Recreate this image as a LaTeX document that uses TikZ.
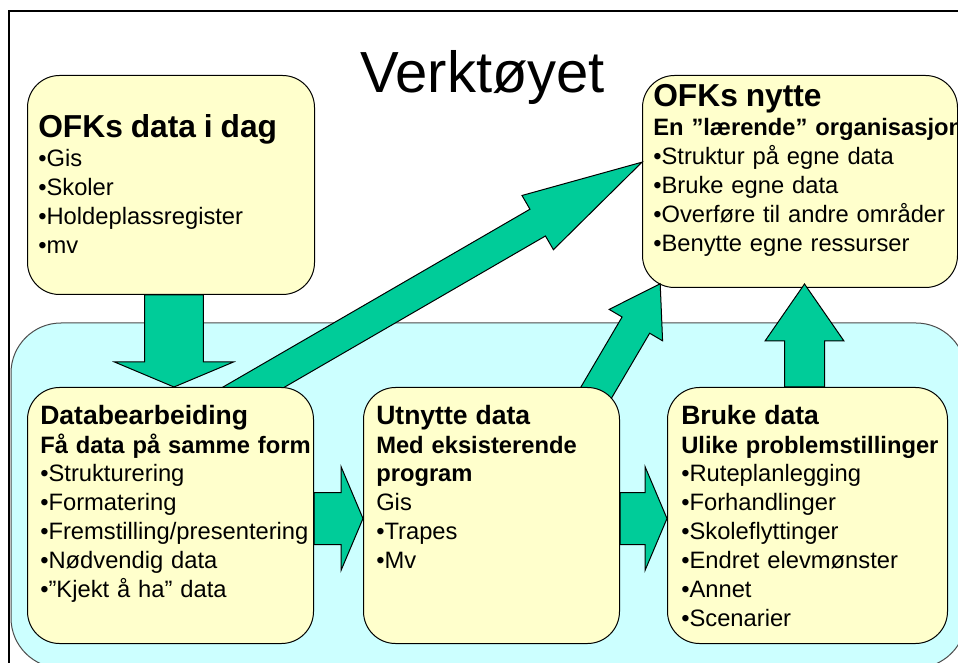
\documentclass[tikz,border=0pt]{standalone}
\usepackage{fontspec}
\setmainfont{Liberation Sans}
\usepackage{tikz}
\usetikzlibrary{positioning,calc,backgrounds}

\pgfdeclarelayer{front}
\pgfsetlayers{background,main,front}

\definecolor{boxyellow}{HTML}{FFFFCC}
\definecolor{toolcyan}{HTML}{CCFFFF}
\definecolor{flowgreen}{HTML}{00CC99}

% headings
\newcommand{\headA}{\fontsize{23.8}{28}\selectfont\bfseries}
\newcommand{\headB}{\fontsize{19.9}{24}\selectfont\bfseries}

% block arrow: tail, tip, half shaft, half head, head length
\newcommand{\blockarrow}[5]{%
  \coordinate (hb) at ($(#2)!#5!(#1)$);
  \draw[flow] ($(#1)!#3!90:(#2)$) -- ($(hb)!#3!90:(#2)$) -- ($(hb)!#4!90:(#2)$)
    -- (#2) -- ($(hb)!#4!-90:(#2)$) -- ($(hb)!#3!-90:(#2)$) -- ($(#1)!#3!-90:(#2)$) -- cycle;
}

\begin{document}
\begin{tikzpicture}[
    x=0.75pt, y=-0.75pt,
    card/.style={draw, line width=0.75pt, rounded corners=24pt, fill=boxyellow, anchor=north west, inner sep=0pt},
    cardtext/.style={anchor=base west, inner sep=0pt, text width=250pt, align=left, font=\fontsize{17.8}{21.75}\selectfont},
    flow/.style={draw=black, line width=0.75pt, fill=flowgreen, line join=miter}
]
\useasboundingbox (0,0) rectangle (958,663);

% frame and tool area
\begin{scope}[on background layer]
  \draw[line width=1.5pt] (9,11) rectangle (990,690);
  \filldraw[fill=toolcyan, draw=black!70, line width=0.75pt, rounded corners=37.5pt] (11,323) rectangle (966,668);
\end{scope}

\node[anchor=base, font=\fontsize{43.5}{52}\selectfont] (title) at (482.5,93) {Verktøyet};

% Goal box
\node[card, minimum width=236.25pt, minimum height=159pt] (nytte) at (642,75) {};
\node[cardtext] (nytte-txt) at ([xshift=8.25pt,yshift=-24pt]nytte.north west)
  {{\headA OFKs nytte}\\{\bfseries En ”lærende” organisasjon}\\•Struktur på egne data\\•Bruke egne data\\•Overføre til andre områder\\•Benytte egne ressurser};

\begin{pgfonlayer}{front}
% Row 1
\node[card, minimum width=215.25pt, minimum height=164.25pt] (today) at (27,75) {};
\node[cardtext] (today-txt) at ([xshift=8.25pt,yshift=-47.25pt]today.north west)
  {{\headA OFKs data i dag}\\•Gis\\•Skoler\\•Holdeplassregister\\•mv};

% Row 2
\node[card, minimum width=214.5pt, minimum height=192pt] (bearbeid) at (27,387) {};
\node[card, minimum width=192pt, minimum height=192pt, right=36.75pt of bearbeid] (utnytte) {};
\node[card, minimum width=210pt, minimum height=192pt, right=35.25pt of utnytte] (bruke) {};

\node[cardtext] (bearbeid-txt) at ([xshift=9.75pt,yshift=-27.75pt]bearbeid.north west)
  {{\headB Databearbeiding}\\{\bfseries Få data på samme form}\\•Strukturering\\•Formatering\\•Fremstilling/presentering\\•Nødvendig data\\•”Kjekt å ha” data};
\node[cardtext] (utnytte-txt) at ([xshift=9.75pt,yshift=-27.75pt]utnytte.north west)
  {{\headB Utnytte data}\\{\bfseries Med eksisterende}\\{\bfseries program}\\Gis\\•Trapes\\•Mv};
\node[cardtext] (bruke-txt) at ([xshift=10.5pt,yshift=-27.75pt]bruke.north west)
  {{\headB Bruke data}\\{\bfseries Ulike problemstillinger}\\•Ruteplanlegging\\•Forhandlinger\\•Skoleflyttinger\\•Endret elevmønster\\•Annet\\•Scenarier};
\end{pgfonlayer}

% arrow ends
\coordinate (a1) at ([xshift=2.25pt]today.south);
\coordinate (a2) at (a1 |- bearbeid.north);
\coordinate (b1) at ([xshift=36pt,yshift=-15.4pt]bearbeid.north);
\coordinate (b2) at ([yshift=14.5pt]nytte.west);
\coordinate (c1) at ([xshift=-26.8pt,yshift=-19.4pt]utnytte.north east);
\coordinate (c2) at ([xshift=13.65pt,yshift=3.2pt]nytte.south west);
\coordinate (d1) at ([xshift=-2.25pt]bruke.north);
\coordinate (d2) at ($(d1 |- nytte.south)+(0,-4)$);
\coordinate (e1) at ([yshift=-2.25pt]bearbeid.east);
\coordinate (e2) at (e1 -| utnytte.west);
\coordinate (f1) at ([yshift=-2.25pt]utnytte.east);
\coordinate (f2) at (f1 -| bruke.west);

% Arrows
\blockarrow{a1}{a2}{22.1pt}{44.6pt}{18.75pt}
\blockarrow{b1}{b2}{11.6pt}{23.5pt}{90.4pt}
\blockarrow{c1}{c2}{12pt}{23.25pt}{36pt}
\blockarrow{d1}{d2}{15pt}{29.6pt}{42.75pt}
\blockarrow{e1}{e2}{19.5pt}{39pt}{16.5pt}
\blockarrow{f1}{f2}{19.5pt}{39pt}{16.5pt}
\end{tikzpicture}
\end{document}
